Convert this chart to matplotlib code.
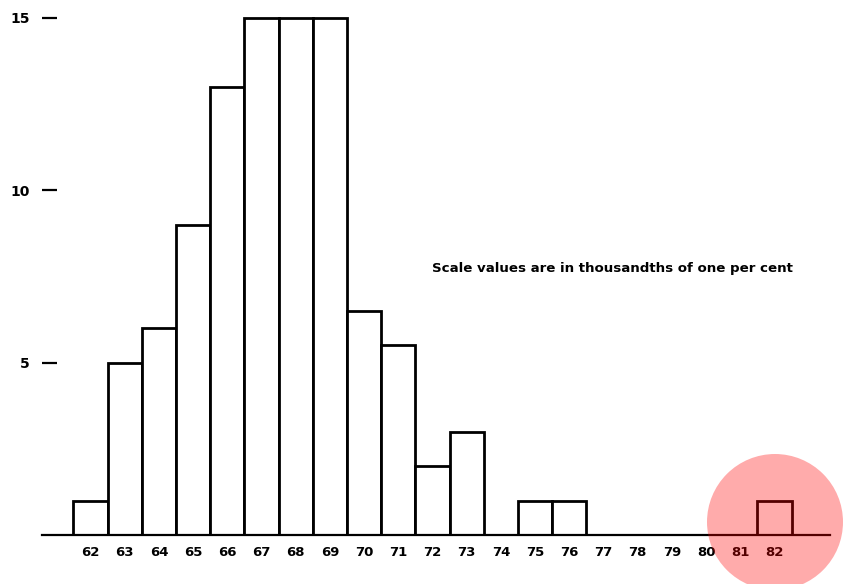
import numpy as np
import matplotlib.pyplot as plt
from matplotlib.patches import Ellipse

# values
scale_values = list(range(62, 83))
counts = [1, 5, 6, 9, 13, 15, 15, 15, 6.5, 5.5, 2, 3, 0, 1, 1, 0, 0, 0, 0, 0, 1]
y_ticks = [5, 10, 15]
note = "Scale values are in thousandths of one per cent"

fig = plt.figure(figsize=(8.44, 5.84), dpi=100)
ax = fig.add_axes([42 / 844, 1 - 535 / 584, (830 - 42) / 844, 535 / 584])

xs = np.array(scale_values)
hs = np.array(counts)
mask = hs > 0
ax.bar(xs[mask], hs[mask], width=1.0, color='white', edgecolor='black',
       linewidth=2.0, zorder=2)

ax.set_xlim(60.58, 83.62)
ax.set_ylim(0, 15.52)

for s in ['top', 'right', 'left']:
    ax.spines[s].set_visible(False)
ax.spines['bottom'].set_linewidth(1.6)
ax.spines['bottom'].set_zorder(3)

ax.set_xticks(scale_values)
ax.set_xticklabels([str(v) for v in scale_values], fontsize=9.5, fontweight='bold')
ax.tick_params(axis='x', length=0, pad=8)

ax.set_yticks(y_ticks)
ax.set_yticklabels([str(v) for v in y_ticks], fontsize=10, fontweight='bold')
ax.tick_params(axis='y', direction='in', length=11, width=1.6, pad=9)

ax.text(0.495, 0.499, note, transform=ax.transAxes, fontsize=9.6,
        fontweight='bold', ha='left', va='center')

# highlight circle around the last bar
circ = Ellipse((775 / 844, 1 - 522 / 584), 136 / 844, 136 / 584,
               transform=fig.transFigure, facecolor='red', alpha=0.33,
               edgecolor='none', zorder=10)
fig.patches.append(circ)

fig.savefig('out.png', dpi=100)
